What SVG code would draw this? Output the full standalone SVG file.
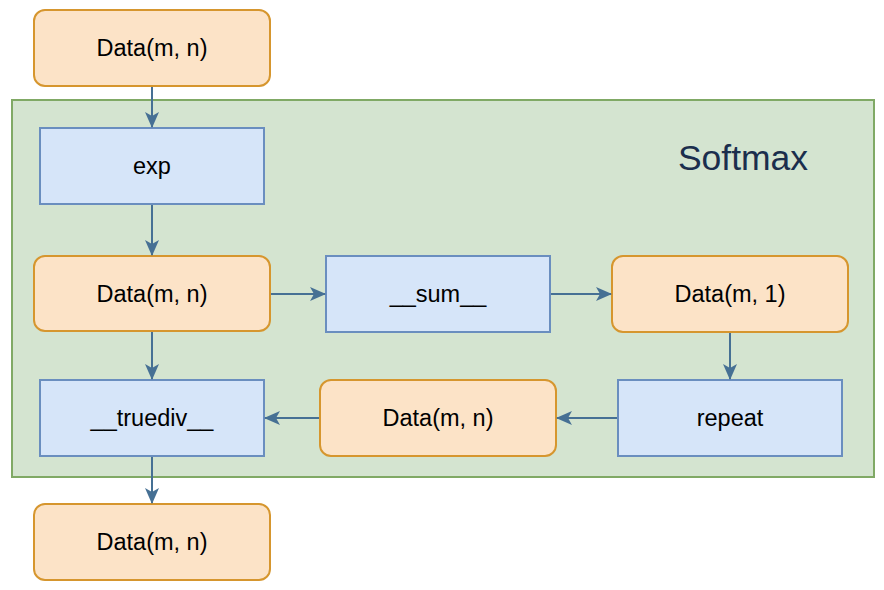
<svg xmlns="http://www.w3.org/2000/svg" width="884" height="590" viewBox="0 0 884 590">
<style>
.data{fill:#fce3c7;stroke:#d6962e;stroke-width:2}
.op{fill:#d6e5f9;stroke:#6a8ebf;stroke-width:2}
.lbl{font-family:"Liberation Sans",Arial,sans-serif;font-size:23.5px;fill:#000;text-anchor:middle;dominant-baseline:central}
.edge{stroke:#467094;stroke-width:2;fill:none;marker-end:url(#arr)}
</style>
<defs>
<marker id="arr" viewBox="0 0 16 16" refX="15" refY="8" markerWidth="16" markerHeight="16" markerUnits="userSpaceOnUse" orient="auto">
<path d="M0,1 L16,8 L0,15 L4,8 z" fill="#467094"/>
</marker>
</defs>
<rect width="884" height="590" fill="#fff"/>
<g id="softmax">
<rect x="12" y="100" width="862" height="377" fill="#d4e4d0" stroke="#80a965" stroke-width="2"/>
<text x="743" y="158" font-family="'Liberation Sans',Arial,sans-serif" font-size="35.5" fill="#1b2e4d" text-anchor="middle" dominant-baseline="central">Softmax</text>
</g>
<g id="n_in"><rect class="data" x="34" y="10" width="236" height="76" rx="11"/><text class="lbl" x="152" y="48">Data(m, n)</text></g>
<g id="n_exp"><rect class="op" x="40" y="128" width="224" height="76"/><text class="lbl" x="152" y="166">exp</text></g>
<g id="n_d1"><rect class="data" x="34" y="256" width="236" height="75" rx="11"/><text class="lbl" x="152" y="294">Data(m, n)</text></g>
<g id="n_sum"><rect class="op" x="326" y="256" width="224" height="76"/><text class="lbl" x="438" y="294">__sum__</text></g>
<g id="n_d2"><rect class="data" x="612" y="256" width="236" height="76" rx="11"/><text class="lbl" x="730" y="294">Data(m, 1)</text></g>
<g id="n_rep"><rect class="op" x="618" y="380" width="224" height="76"/><text class="lbl" x="730" y="418">repeat</text></g>
<g id="n_d3"><rect class="data" x="320" y="380" width="236" height="76" rx="11"/><text class="lbl" x="438" y="418">Data(m, n)</text></g>
<g id="n_div"><rect class="op" x="40" y="380" width="224" height="76"/><text class="lbl" x="152" y="418">__truediv__</text></g>
<g id="n_out"><rect class="data" x="34" y="504" width="236" height="76" rx="11"/><text class="lbl" x="152" y="542">Data(m, n)</text></g>
<g id="edges">
<line class="edge" x1="152" y1="87" x2="152" y2="127"/>
<line class="edge" x1="152" y1="205" x2="152" y2="255"/>
<line class="edge" x1="271" y1="294" x2="325" y2="294"/>
<line class="edge" x1="551" y1="294" x2="611" y2="294"/>
<line class="edge" x1="730" y1="333" x2="730" y2="379"/>
<line class="edge" x1="617" y1="418" x2="557" y2="418"/>
<line class="edge" x1="319" y1="418" x2="265" y2="418"/>
<line class="edge" x1="152" y1="332" x2="152" y2="379"/>
<line class="edge" x1="152" y1="457" x2="152" y2="503"/>
</g>
</svg>
